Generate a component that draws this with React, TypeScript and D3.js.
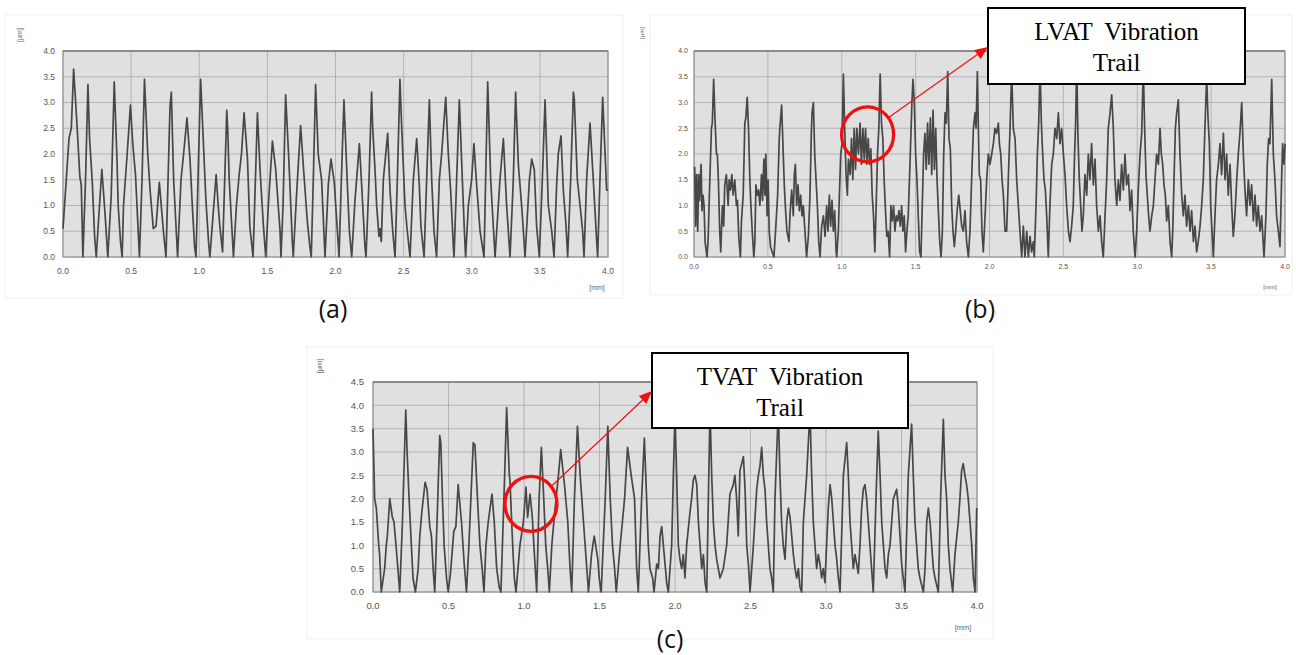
import React from "react";
import * as d3 from "d3";

// ---------- DATA (x in mm, y in µm) ----------
const xTicks = [0, 0.5, 1, 1.5, 2, 2.5, 3, 3.5, 4];
const yTicksAB = [0, 0.5, 1, 1.5, 2, 2.5, 3, 3.5, 4];
const yTicksC = [0, 0.5, 1, 1.5, 2, 2.5, 3, 3.5, 4, 4.5];
const panelLabels = ["(a)", "(b)", "(c)"];
const calloutB = ["LVAT  Vibration", "Trail"];
const calloutC = ["TVAT  Vibration", "Trail"];

const profileA: [number, number][] = [
  [0, 0.55], [0.024, 1.5], [0.044, 2.3], [0.061, 2.5], [0.078, 3.65], [0.102, 2.6], [0.124, 1.55], [0.134, 1.4], [0.146, 0],
  [0.166, 1.55], [0.183, 3.35], [0.195, 2.3], [0.215, 1.45], [0.232, 0.4], [0.244, 0],
  [0.263, 0.8], [0.285, 1.7], [0.307, 0.9], [0.329, 0], [0.354, 1.2], [0.376, 3.4], [0.395, 2.0], [0.405, 1.0], [0.422, 0.3], [0.434, 0],
  [0.444, 1.0], [0.471, 2.0], [0.495, 2.95], [0.512, 2.2], [0.532, 1.6], [0.561, 0], [0.58, 1.5], [0.598, 3.45], [0.622, 2.0], [0.639, 1.3],
  [0.663, 0.55], [0.683, 0.6], [0.707, 1.45], [0.737, 0.5], [0.756, 0], [0.785, 2.9], [0.795, 3.2], [0.812, 1.5], [0.841, 0],
  [0.866, 1.5], [0.885, 2.0], [0.91, 2.7], [0.932, 1.9], [0.951, 0.9], [0.966, 0.2], [0.976, 0], [1.01, 3.45], [1.029, 2.3], [1.049, 1.1],
  [1.068, 0.3], [1.078, 0], [1.124, 1.6], [1.139, 1.0], [1.151, 0.6], [1.171, 0.1], [1.202, 2.85], [1.21, 2.4], [1.22, 1.5], [1.251, 0],
  [1.273, 1.0], [1.293, 1.6], [1.31, 2.0], [1.329, 2.8], [1.354, 1.9], [1.371, 0.6], [1.395, 0], [1.427, 2.8], [1.446, 1.7], [1.471, 0.6],
  [1.488, 0], [1.507, 1.0], [1.537, 2.25], [1.561, 1.7], [1.593, 0.5], [1.6, 0], [1.615, 1.0], [1.634, 3.15], [1.659, 1.8], [1.683, 0.3],
  [1.69, 0], [1.715, 1.25], [1.744, 2.55], [1.763, 1.8], [1.793, 0.7], [1.812, 0.2], [1.822, 0], [1.837, 1.5], [1.854, 3.35], [1.873, 2.0],
  [1.898, 1.5], [1.923, 0], [1.947, 1.4], [1.967, 1.9], [1.991, 1.45], [2.009, 0.7], [2.026, 0], [2.043, 1.5], [2.062, 3.05], [2.087, 1.4],
  [2.102, 0.5], [2.119, 0], [2.143, 1.1], [2.175, 2.2], [2.192, 1.4], [2.216, 0.2], [2.224, 0], [2.246, 1.5], [2.265, 3.2], [2.273, 2.5],
  [2.29, 1.7], [2.302, 1.0], [2.319, 0.4], [2.327, 0.55], [2.336, 0.3], [2.351, 1.5], [2.383, 2.4], [2.4, 1.3], [2.42, 0.5], [2.437, 0],
  [2.456, 1.7], [2.473, 3.45], [2.486, 2.5], [2.51, 1.0], [2.527, 0.5], [2.547, 0], [2.571, 1.5], [2.596, 2.3], [2.615, 1.4], [2.627, 0.6],
  [2.65, 0], [2.669, 1.5], [2.689, 3.05], [2.706, 1.5], [2.723, 0.5], [2.742, 0], [2.762, 1.5], [2.779, 2.0], [2.809, 3.1], [2.828, 2.0],
  [2.845, 1.3], [2.865, 0.2], [2.87, 0], [2.889, 1.5], [2.909, 3.05], [2.931, 1.5], [2.946, 0.5], [2.955, 0], [2.975, 1.0], [2.999, 1.5],
  [3.016, 2.2], [3.036, 1.4], [3.061, 0.5], [3.09, 0], [3.117, 3.4], [3.139, 1.5], [3.171, 0], [3.207, 1.5], [3.232, 2.3], [3.256, 1.0],
  [3.276, 0.2], [3.281, 0], [3.305, 1.5], [3.322, 3.2], [3.342, 1.8], [3.366, 1.0], [3.379, 0.5], [3.391, 0], [3.423, 1.5], [3.44, 1.9],
  [3.459, 1.7], [3.476, 0.6], [3.496, 0], [3.518, 1.5], [3.538, 3.05], [3.562, 1.0], [3.587, 0.5], [3.604, 0], [3.623, 1.4], [3.635, 2.0],
  [3.655, 2.35], [3.672, 1.3], [3.692, 0.6], [3.704, 0], [3.726, 1.5], [3.746, 3.2], [3.753, 3.05], [3.775, 1.5], [3.795, 1.0], [3.814, 0.5],
  [3.824, 0], [3.843, 1.5], [3.868, 2.6], [3.892, 1.5], [3.917, 0.3], [3.924, 0], [3.941, 1.5], [3.961, 3.1], [3.99, 1.3], [4.0, 1.3],
];

const profileB: [number, number][] = [
  [0.0045, 1.75], [0.011, 0.6], [0.018, 1.6], [0.025, 0.5], [0.032, 1.6], [0.038, 1.1], [0.048, 1.8], [0.054, 0.9], [0.061, 1.2], [0.068, 1.0],
  [0.075, 0.3], [0.088, 0], [0.095, 0.3], [0.106, 1.4], [0.118, 2.5], [0.124, 2.6], [0.133, 3.45], [0.143, 2.6], [0.152, 2.0], [0.158, 2.0],
  [0.165, 1.5], [0.174, 0.5], [0.181, 0.1], [0.186, 0.5], [0.192, 1.0], [0.201, 0.6], [0.208, 1.4], [0.219, 1.6], [0.231, 1.0], [0.238, 1.5],
  [0.247, 1.3], [0.256, 1.6], [0.265, 1.2], [0.276, 1.5], [0.287, 1.0], [0.294, 1.1], [0.303, 0.4], [0.314, 0], [0.321, 0.7], [0.333, 1.2],
  [0.344, 2.6], [0.351, 2.7], [0.36, 3.1], [0.369, 2.5], [0.378, 1.5], [0.385, 1.0], [0.394, 0.5], [0.405, 0], [0.412, 0.3], [0.419, 1.4],
  [0.428, 1.2], [0.437, 1.3], [0.446, 1.0], [0.457, 1.6], [0.464, 1.1], [0.473, 1.9], [0.48, 1.2], [0.486, 2.0], [0.495, 0.8], [0.502, 1.5],
  [0.509, 0.5], [0.518, 0.2], [0.529, 0.1], [0.541, 0], [0.554, 0.6], [0.566, 1.2], [0.577, 2.3], [0.581, 2.5], [0.593, 2.95], [0.604, 2.0],
  [0.611, 1.4], [0.62, 0.9], [0.629, 0.5], [0.643, 0.3], [0.649, 0.8], [0.661, 1.3], [0.672, 0.8], [0.679, 1.6], [0.686, 1.8], [0.695, 1.0],
  [0.704, 1.4], [0.713, 0.9], [0.722, 1.2], [0.731, 0.8], [0.74, 1.0], [0.751, 0.5], [0.762, 0], [0.774, 0.4], [0.785, 1.2], [0.794, 2.4],
  [0.799, 2.8], [0.808, 3.0], [0.817, 2.0], [0.826, 1.5], [0.835, 1.0], [0.844, 0.3], [0.853, 0], [0.864, 0.6], [0.876, 0.8], [0.887, 0.4],
  [0.898, 1.0], [0.907, 0.5], [0.916, 1.2], [0.925, 0.6], [0.934, 1.1], [0.943, 0.5], [0.952, 0.9], [0.962, 0.1], [0.966, 0], [0.977, 0.5],
  [0.984, 1.2], [0.993, 2.0], [1.002, 2.2], [1.011, 3.55], [1.02, 2.5], [1.029, 1.6], [1.038, 1.2], [1.045, 1.9], [1.057, 1.6], [1.066, 2.3],
  [1.075, 1.5], [1.084, 2.5], [1.093, 1.7], [1.102, 2.5], [1.113, 2.0], [1.124, 2.6], [1.133, 1.8], [1.143, 2.5], [1.152, 1.9], [1.161, 2.5],
  [1.17, 1.8], [1.179, 2.3], [1.188, 1.8], [1.197, 2.1], [1.206, 1.2], [1.215, 0.8], [1.224, 0.1], [1.233, 1.0], [1.242, 2.0], [1.251, 2.5],
  [1.26, 3.55], [1.269, 2.6], [1.278, 2.3], [1.287, 1.5], [1.296, 0.9], [1.305, 0.4], [1.314, 0.5], [1.324, 0], [1.333, 1.0], [1.342, 0.7],
  [1.351, 1.0], [1.36, 0.5], [1.369, 0.8], [1.378, 0.7], [1.387, 0.9], [1.396, 0.6], [1.405, 1.0], [1.414, 0.5], [1.423, 0.8], [1.432, 0.1],
  [1.441, 0.5], [1.45, 0.8], [1.457, 1.4], [1.464, 2.0], [1.475, 3.0], [1.482, 3.45], [1.491, 3.0], [1.5, 2.0], [1.509, 1.5], [1.518, 0.8],
  [1.527, 0.1], [1.536, 0], [1.545, 1.0], [1.554, 2.0], [1.563, 2.4], [1.572, 1.7], [1.581, 2.6], [1.59, 1.8], [1.6, 2.7], [1.609, 1.6],
  [1.618, 2.85], [1.627, 1.7], [1.636, 2.5], [1.645, 1.5], [1.654, 0.9], [1.663, 0.3], [1.672, 0], [1.681, 0.5], [1.69, 2.0], [1.699, 2.8],
  [1.708, 2.6], [1.717, 3.6], [1.726, 2.3], [1.735, 2.1], [1.744, 1.0], [1.753, 0.5], [1.762, 0.2], [1.771, 0.5], [1.781, 0.9], [1.792, 1.2],
  [1.812, 0.6], [1.823, 0.5], [1.834, 0.9], [1.845, 0.3], [1.857, 0], [1.868, 0.5], [1.879, 1.5], [1.891, 2.5], [1.902, 2.8], [1.909, 2.5],
  [1.918, 3.6], [1.924, 2.6], [1.931, 1.6], [1.94, 1.5], [1.949, 0.5], [1.958, 0.1], [1.97, 0.8], [1.981, 1.5], [1.992, 2.0], [2.003, 1.8],
  [2.015, 2.0], [2.026, 2.2], [2.037, 2.5], [2.048, 2.4], [2.06, 2.6], [2.067, 2.2], [2.076, 2.0], [2.085, 1.5], [2.094, 1.2], [2.105, 0.5],
  [2.116, 0.5], [2.127, 1.5], [2.139, 2.5], [2.15, 3.6], [2.161, 2.5], [2.173, 2.3], [2.184, 1.5], [2.195, 1.0], [2.206, 0.5], [2.218, 0],
  [2.229, 0.6], [2.24, 0], [2.252, 0.5], [2.263, 0], [2.274, 0.4], [2.285, 0.1], [2.297, 0.3], [2.303, 0], [2.315, 1.0], [2.324, 2.0],
  [2.333, 2.6], [2.342, 3.7], [2.351, 2.6], [2.36, 2.0], [2.369, 1.5], [2.378, 1.3], [2.387, 0.8], [2.398, 0], [2.409, 1.0], [2.421, 1.8],
  [2.432, 2.0], [2.443, 2.5], [2.455, 2.3], [2.466, 2.8], [2.477, 2.2], [2.488, 2.5], [2.5, 2.0], [2.511, 1.6], [2.522, 1.0], [2.534, 0.5],
  [2.545, 0.3], [2.556, 0.6], [2.567, 1.0], [2.576, 2.0], [2.583, 2.6], [2.59, 3.8], [2.599, 2.3], [2.608, 1.5], [2.617, 1.0], [2.626, 0.5],
  [2.635, 0.8], [2.646, 1.6], [2.658, 1.2], [2.669, 2.0], [2.68, 1.5], [2.691, 2.2], [2.703, 1.4], [2.714, 1.9], [2.725, 1.0], [2.737, 0.5],
  [2.748, 0.8], [2.759, 0.3], [2.77, 0], [2.782, 0.8], [2.793, 1.5], [2.804, 2.5], [2.816, 2.8], [2.827, 3.15], [2.838, 2.5], [2.849, 1.5],
  [2.861, 1.0], [2.872, 1.5], [2.883, 1.1], [2.894, 1.8], [2.906, 1.3], [2.917, 2.0], [2.928, 1.4], [2.94, 1.6], [2.951, 0.9], [2.962, 1.3],
  [2.973, 0.5], [2.985, 0], [2.996, 0.5], [3.007, 1.3], [3.019, 2.0], [3.03, 2.4], [3.041, 3.7], [3.05, 2.5], [3.059, 1.6], [3.068, 1.2],
  [3.077, 0.8], [3.086, 0.5], [3.098, 0.8], [3.109, 1.0], [3.12, 1.5], [3.131, 2.0], [3.143, 1.8], [3.154, 2.5], [3.163, 2.0], [3.172, 1.8],
  [3.181, 1.4], [3.19, 1.2], [3.199, 0.7], [3.21, 1.0], [3.222, 0.3], [3.233, 0], [3.24, 0.5], [3.249, 1.5], [3.258, 2.5], [3.267, 2.8],
  [3.278, 3.05], [3.289, 2.0], [3.301, 1.2], [3.312, 0.8], [3.323, 1.2], [3.334, 0.6], [3.346, 1.0], [3.357, 0.5], [3.368, 0.9], [3.38, 0.3],
  [3.391, 0.6], [3.402, 0.1], [3.413, 0.3], [3.425, 0.6], [3.436, 1.0], [3.447, 1.5], [3.458, 2.5], [3.47, 3.5], [3.479, 2.7], [3.488, 2.2],
  [3.497, 1.0], [3.506, 0.5], [3.515, 0], [3.526, 0.8], [3.537, 1.5], [3.549, 1.8], [3.56, 2.2], [3.571, 1.6], [3.583, 2.4], [3.594, 1.5],
  [3.605, 2.0], [3.616, 1.2], [3.628, 1.8], [3.639, 1.0], [3.65, 0.4], [3.661, 0.8], [3.673, 1.5], [3.684, 2.0], [3.695, 2.4], [3.707, 3.0],
  [3.718, 2.0], [3.729, 1.3], [3.74, 0.8], [3.752, 1.5], [3.763, 1.0], [3.774, 1.4], [3.786, 0.7], [3.797, 1.2], [3.808, 0.6], [3.819, 1.0],
  [3.831, 0.5], [3.842, 0.8], [3.858, 0], [3.871, 0.8], [3.88, 1.8], [3.889, 2.3], [3.898, 2.2], [3.91, 3.45], [3.921, 2.0], [3.932, 1.5],
  [3.943, 0.8], [3.955, 0.5], [3.966, 0.2], [3.977, 1.5], [3.984, 2.2], [3.993, 1.8], [4.0, 2.2],
];

const profileC: [number, number][] = [
  [0, 3.5], [0.011, 2.0], [0.022, 1.8], [0.038, 1.0], [0.044, 0.8], [0.055, 0], [0.077, 0.5], [0.088, 1.0], [0.095, 1.2], [0.111, 2.0],
  [0.128, 1.6], [0.139, 1.5], [0.155, 0.9], [0.177, 0], [0.195, 1.5], [0.217, 3.9], [0.226, 3.0], [0.239, 2.0], [0.254, 1.0], [0.265, 0.3],
  [0.281, 0], [0.299, 0.5], [0.31, 1.2], [0.323, 1.7], [0.345, 2.35], [0.358, 2.2], [0.376, 1.4], [0.387, 1.2], [0.398, 0.5], [0.409, 0],
  [0.427, 1.8], [0.442, 3.35], [0.449, 3.2], [0.46, 2.0], [0.471, 1.0], [0.487, 0.3], [0.498, 0], [0.513, 0.4], [0.535, 1.3], [0.549, 1.4],
  [0.564, 2.3], [0.586, 1.5], [0.604, 0.6], [0.619, 0], [0.635, 1.0], [0.664, 3.2], [0.675, 3.15], [0.692, 2.0], [0.708, 1.0], [0.723, 0.5],
  [0.735, 0], [0.748, 1.0], [0.763, 1.5], [0.788, 2.1], [0.803, 1.5], [0.819, 0.5], [0.836, 0.1], [0.847, 0], [0.867, 2.0], [0.885, 3.95],
  [0.903, 2.5], [0.907, 2.4], [0.925, 1.0], [0.936, 0.3], [0.947, 0], [0.973, 1.0], [0.996, 1.5], [1.013, 2.25], [1.024, 1.6], [1.04, 2.1],
  [1.055, 1.6], [1.069, 0.8], [1.084, 0], [1.1, 2.0], [1.115, 3.1], [1.128, 2.2], [1.144, 1.0], [1.157, 0.5], [1.168, 0], [1.184, 1.0],
  [1.206, 1.8], [1.228, 2.5], [1.243, 3.05], [1.268, 2.3], [1.29, 1.5], [1.305, 0.5], [1.316, 0], [1.334, 2.0], [1.354, 3.55], [1.372, 2.5],
  [1.394, 1.5], [1.416, 0.5], [1.427, 0], [1.447, 0.8], [1.465, 1.2], [1.489, 0.7], [1.498, 0.3], [1.511, 0], [1.538, 2.0], [1.555, 3.55],
  [1.571, 2.0], [1.586, 1.0], [1.6, 0.5], [1.611, 0], [1.637, 1.0], [1.666, 2.0], [1.686, 3.1], [1.71, 2.5], [1.732, 2.0], [1.746, 0.5],
  [1.757, 0], [1.779, 2.0], [1.797, 3.3], [1.812, 2.0], [1.823, 1.0], [1.834, 0.5], [1.852, 0.3], [1.861, 0], [1.879, 0.6], [1.89, 0.5],
  [1.901, 1.2], [1.912, 1.4], [1.923, 1.0], [1.934, 0.6], [1.945, 0.2], [1.956, 0], [1.978, 1.0], [1.989, 2.5], [2.0, 3.8], [2.011, 2.5],
  [2.022, 1.0], [2.033, 0.7], [2.044, 0.5], [2.055, 0.8], [2.066, 0.3], [2.077, 1.0], [2.099, 1.7], [2.11, 2.0], [2.121, 2.4], [2.132, 2.5],
  [2.144, 2.3], [2.155, 1.5], [2.166, 1.0], [2.177, 0.5], [2.188, 0.8], [2.199, 0.2], [2.21, 0], [2.221, 2.0], [2.232, 3.9], [2.243, 2.5],
  [2.254, 1.5], [2.265, 1.0], [2.276, 0.7], [2.287, 0.5], [2.298, 0.3], [2.32, 0.5], [2.342, 1.0], [2.364, 2.1], [2.386, 2.3], [2.397, 2.5],
  [2.408, 2.0], [2.419, 1.2], [2.43, 2.6], [2.453, 2.9], [2.464, 2.2], [2.475, 1.0], [2.486, 0.6], [2.497, 0], [2.519, 1.0], [2.53, 1.6],
  [2.541, 2.2], [2.552, 2.5], [2.563, 2.7], [2.574, 3.1], [2.585, 2.5], [2.596, 2.2], [2.607, 1.5], [2.618, 1.0], [2.629, 0.5], [2.64, 0.3],
  [2.651, 0], [2.662, 2.0], [2.684, 3.9], [2.695, 2.5], [2.706, 1.5], [2.717, 1.0], [2.729, 0.7], [2.74, 1.5], [2.751, 1.8], [2.762, 1.6],
  [2.773, 1.2], [2.784, 0.8], [2.795, 0.5], [2.806, 0.3], [2.817, 0.5], [2.828, 0.1], [2.839, 0], [2.85, 1.5], [2.872, 2.5], [2.894, 3.9],
  [2.905, 2.5], [2.916, 1.5], [2.927, 1.0], [2.938, 0.5], [2.949, 0.8], [2.96, 0.6], [2.971, 0.3], [2.982, 0.5], [2.993, 0.2], [3.004, 1.0],
  [3.015, 1.8], [3.027, 2.3], [3.038, 2.0], [3.049, 1.5], [3.06, 1.0], [3.071, 0.7], [3.082, 0.3], [3.093, 0], [3.115, 2.5], [3.137, 3.2],
  [3.148, 2.5], [3.159, 1.5], [3.17, 1.0], [3.181, 0.5], [3.192, 0.8], [3.203, 0.6], [3.214, 0.4], [3.225, 1.0], [3.236, 1.8], [3.247, 2.2],
  [3.258, 2.3], [3.269, 2.0], [3.28, 1.5], [3.291, 1.0], [3.302, 0.5], [3.313, 0], [3.331, 2.0], [3.346, 3.45], [3.358, 2.5], [3.369, 1.5],
  [3.38, 1.0], [3.391, 0.5], [3.402, 0.3], [3.413, 0.8], [3.424, 1.0], [3.435, 1.5], [3.446, 2.0], [3.468, 2.2], [3.479, 1.8], [3.49, 1.2],
  [3.501, 0.6], [3.512, 0.3], [3.523, 0], [3.545, 2.5], [3.567, 3.6], [3.578, 2.5], [3.589, 1.5], [3.6, 1.0], [3.611, 0.5], [3.622, 0.3],
  [3.645, 0], [3.656, 0.5], [3.667, 1.5], [3.678, 1.8], [3.689, 1.5], [3.7, 1.0], [3.711, 0.5], [3.722, 0.3], [3.744, 0], [3.759, 2.0],
  [3.777, 3.7], [3.788, 2.5], [3.799, 2.0], [3.81, 1.0], [3.821, 0.5], [3.839, 0], [3.854, 0.8], [3.876, 1.5], [3.887, 2.0], [3.898, 2.6],
  [3.909, 2.75], [3.92, 2.5], [3.931, 2.3], [3.942, 2.0], [3.954, 1.5], [3.965, 1.0], [3.976, 0.3], [3.987, 0], [3.998, 1.8],
];

// ---------- PANEL ----------
type PanelProps = {
  data: [number, number][];
  left: number; right: number; top: number; bottom: number;
  yMax: number; yTicks: number[];
  fontSize: number;
  frame: [number, number, number, number];
  umPos: [number, number];
  mmPos: [number, number];
  unitSize: number;
  yLabelGap: number;
  xLabelGap: number;
};

function Panel(p: PanelProps) {
  const x = d3.scaleLinear().domain([0, 4]).range([p.left, p.right]);
  const y = d3.scaleLinear().domain([0, p.yMax]).range([p.bottom, p.top]);
  const line = d3.line<[number, number]>().x((d) => x(d[0])).y((d) => y(d[1]));
  return (
    <g>
      <rect x={p.frame[0]} y={p.frame[1]} width={p.frame[2]} height={p.frame[3]} fill="#fff" stroke="#f0f0f0" strokeWidth={1} />
      <rect x={p.left} y={p.top} width={p.right - p.left} height={p.bottom - p.top} fill="#e0e0e0" />
      {p.yTicks.map((t) => (
        <line key={"h" + t} x1={p.left} x2={p.right} y1={y(t)} y2={y(t)} stroke="#a8a8a8" strokeWidth={0.8} />
      ))}
      {xTicks.map((t) => (
        <line key={"v" + t} x1={x(t)} x2={x(t)} y1={p.top} y2={p.bottom} stroke="#a8a8a8" strokeWidth={0.8} />
      ))}
      <rect x={p.left} y={p.top} width={p.right - p.left} height={p.bottom - p.top} fill="none" stroke="#8a8a8a" strokeWidth={1} />
      <line x1={p.left} x2={p.right} y1={p.top} y2={p.top} stroke="#6a6a6a" strokeWidth={1.2} />
      <path d={line(p.data) || ""} fill="none" stroke="#474747" strokeWidth={1.7} strokeLinejoin="round" />
      {p.yTicks.map((t) => (
        <text key={"yl" + t} x={p.left - p.yLabelGap} y={y(t)} dy="0.35em" textAnchor="end"
          fontFamily="Liberation Sans, Arial, sans-serif" fontSize={p.fontSize} fill="#555">
          {t.toFixed(1)}
        </text>
      ))}
      {xTicks.map((t) => (
        <text key={"xl" + t} x={x(t)} y={p.bottom + p.xLabelGap} textAnchor="middle"
          fontFamily="Liberation Sans, Arial, sans-serif" fontSize={p.fontSize} fill="#555">
          {t.toFixed(1)}
        </text>
      ))}
      <text transform={`translate(${p.umPos[0]},${p.umPos[1]}) rotate(-90)`} textAnchor="middle" dy="0.35em"
        fontFamily="Liberation Sans, Arial, sans-serif" fontSize={p.unitSize} fill="#666">[μm]</text>
      <text x={p.mmPos[0]} y={p.mmPos[1]} textAnchor="middle" dy="0.35em"
        fontFamily="Liberation Sans, Arial, sans-serif" fontSize={p.unitSize} fill="#666">[mm]</text>
    </g>
  );
}

function Callout(props: { lines: string[]; box: [number, number, number, number]; baselines: [number, number]; circle: [number, number]; r: number; from: [number, number]; to: [number, number] }) {
  const { lines, box, baselines, circle, r, from, to } = props;
  const ang = Math.atan2(to[1] - from[1], to[0] - from[0]);
  const hl = 13, hw = 5.5;
  const bx = to[0] - hl * Math.cos(ang), by = to[1] - hl * Math.sin(ang);
  const head = `${to[0]},${to[1]} ${bx - hw * Math.sin(ang)},${by + hw * Math.cos(ang)} ${bx + hw * Math.sin(ang)},${by - hw * Math.cos(ang)}`;
  return (
    <g>
      <ellipse cx={circle[0]} cy={circle[1]} rx={r} ry={r + 1.5} fill="none" stroke="#f01010" strokeWidth={3.3} />
      <line x1={from[0]} y1={from[1]} x2={bx} y2={by} stroke="#f01010" strokeWidth={1.2} />
      <polygon points={head} fill="#f01010" />
      <rect x={box[0]} y={box[1]} width={box[2]} height={box[3]} fill="#fff" stroke="#000" strokeWidth={2} />
      {lines.map((l, i) => (
        <text key={i} x={box[0] + box[2] / 2} y={baselines[i]} textAnchor="middle"
          fontFamily="Liberation Serif, Times New Roman, serif" fontSize={25} fill="#000" style={{ whiteSpace: "pre" }}>
          {l}
        </text>
      ))}
    </g>
  );
}

export default function App() {
  const xb = d3.scaleLinear().domain([0, 4]).range([694, 1285]);
  const yb = d3.scaleLinear().domain([0, 4]).range([257, 51]);
  const xc = d3.scaleLinear().domain([0, 4]).range([373, 977]);
  const yc = d3.scaleLinear().domain([0, 4.5]).range([592, 382]);
  const cB: [number, number] = [xb(1.175), yb(2.38)];
  const cC: [number, number] = [xc(1.046), yc(1.89)];
  return (
    <svg width={1296} height={655} style={{ display: "block", position: "absolute", left: 0, top: 0 }}>
      <rect x={0} y={0} width={1296} height={655} fill="#fff" />
      <Panel data={profileA} left={63} right={608} top={51} bottom={257} yMax={4} yTicks={yTicksAB}
        fontSize={8.5} frame={[5, 15, 618, 283]} umPos={[20, 35]} mmPos={[597, 288]} unitSize={7}
        yLabelGap={8} xLabelGap={17} />
      <Panel data={profileB} left={694} right={1285} top={51} bottom={257} yMax={4} yTicks={yTicksAB}
        fontSize={7} frame={[650, 15, 642, 280]} umPos={[642, 33]} mmPos={[1270, 287]} unitSize={6}
        yLabelGap={6} xLabelGap={12} />
      <Panel data={profileC} left={373} right={977} top={382} bottom={592} yMax={4.5} yTicks={yTicksC}
        fontSize={9.5} frame={[307, 347, 686, 292]} umPos={[319, 366]} mmPos={[963, 627]} unitSize={7.5}
        yLabelGap={9} xLabelGap={17} />
      <text x={333} y={318} textAnchor="middle" fontFamily="Open Sans, Liberation Sans, sans-serif" fontSize={25} fill="#111">{panelLabels[0]}</text>
      <text x={980} y={318} textAnchor="middle" fontFamily="Open Sans, Liberation Sans, sans-serif" fontSize={25} fill="#111">{panelLabels[1]}</text>
      <text x={670} y={648} textAnchor="middle" fontFamily="Open Sans, Liberation Sans, sans-serif" fontSize={25} fill="#111">{panelLabels[2]}</text>
      <Callout lines={calloutB} box={[988, 8, 257, 76]} baselines={[40, 71]} circle={cB} r={26}
        from={[cB[0] + 21, cB[1] - 17]} to={[988, 47]} />
      <Callout lines={calloutC} box={[652, 353, 256, 75]} baselines={[385, 416]} circle={cC} r={26}
        from={[cC[0] + 21, cC[1] - 18]} to={[652, 391]} />
    </svg>
  );
}
